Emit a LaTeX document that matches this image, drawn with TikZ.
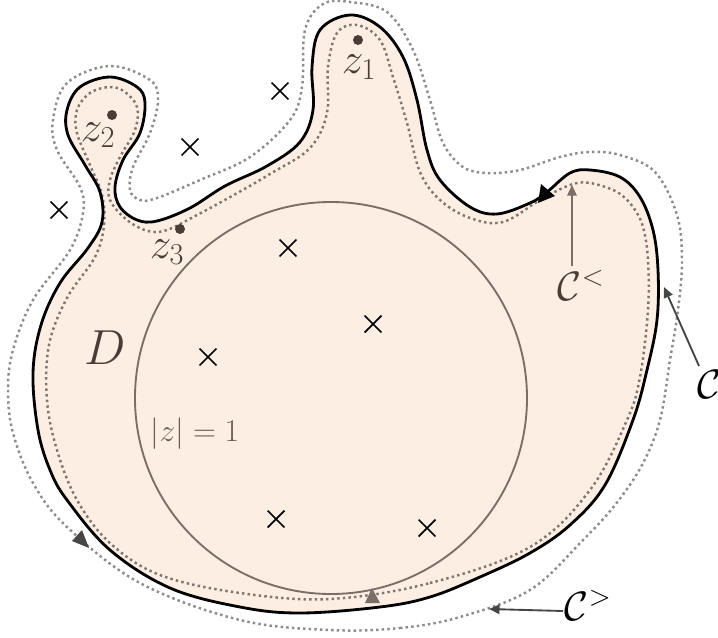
\RequirePackage{fix-cm}
\documentclass[tikz,border=0pt]{standalone}
\usepackage{amsmath}
\usetikzlibrary{arrows.meta,shapes.misc}
\definecolor{peach}{RGB}{253,238,228}
\definecolor{circcol}{RGB}{122,110,103}
\definecolor{labcol}{RGB}{74,61,54}
\definecolor{innerdot}{RGB}{128,118,112}
\definecolor{outerdot}{RGB}{140,140,140}
\definecolor{arrdark}{RGB}{70,70,70}
\tikzset{
  boundary/.style={line width=2.4pt, black},
  innerc/.style={innerdot, line width=2.1pt, dash pattern=on 2.1pt off 2.7pt},
  outerc/.style={outerdot, line width=2.1pt, dash pattern=on 2.1pt off 2.7pt},
  xmark/.style={cross out, draw=black, line width=1.5pt, minimum size=0.45cm, inner sep=0pt},
  dotm/.style={circle, fill=labcol, minimum size=0.3cm, inner sep=0pt},
  lab/.style={text=labcol, inner sep=0pt},
  unitc/.style={circle, draw=circcol, line width=1.6pt, minimum size=11.76cm, inner sep=0pt},
  ptr/.style={line width=1.6pt, -{Triangle[length=9pt,width=8pt]}},
}
\begin{document}
\begin{tikzpicture}[x=0.03cm,y=-0.03cm]
\useasboundingbox (0,0) rectangle (718,638);
\clip (0,0) rectangle (718,638);

\def\boundarypts{(300,613) (380,607) (430,597) (480,577) (530,553) (570,525) (605,485) (633,420)
 (647,370) (657,320) (658,270) (653,230) (640,197) (620,177) (590,170) (570,173)
 (547,192) (530,203) (497,214) (470,207) (440,180) (427,150) (417,100) (403,57)
 (380,27) (350,15) (320,30) (312,67) (313,110) (300,142) (267,166) (225,186)
 (190,208) (157,221) (137,220) (120,207) (115,187) (123,160) (140,133)
 (145,103) (137,87) (110,77) (80,87) (67,110) (68,135) (85,165) (100,192)
 (102,222) (88,248) (60,283) (41,325) (33,373) (38,430) (50,470) (67,500)
 (110,550) (170,588) (240,607)}

% domain fill
\path[fill=peach] plot[smooth cycle, tension=0.6] coordinates {\boundarypts};

% unit circle
\node[unitc] (uc) at (331,398) {};

% inner dotted contour
\draw[innerc] plot[smooth cycle, tension=0.6] coordinates {
 (330,599) (430,583) (530,547) (590,490) (627,420) (640,377) (648,310) (648,260)
 (643,227) (633,207) (617,192) (590,183) (570,185) (540,200) (503,222) (470,218)
 (440,200) (420,172) (407,123) (393,77) (380,40) (357,25) (337,33) (328,67)
 (327,113) (310,148) (270,174) (232,196) (197,215) (167,230) (148,231) (127,220)
 (110,200) (110,180) (120,157) (135,130) (137,107) (125,92) (110,87) (90,93) (77,110)
 (77,133) (90,165) (102,195) (104,225) (95,257) (67,298) (49,345) (47,400)
 (57,450) (77,500) (110,543) (160,575) (240,593)};

% boundary
\draw[boundary] plot[smooth cycle, tension=0.6] coordinates {\boundarypts};

% outer dotted contour
\draw[outerc] plot[smooth cycle, tension=0.6] coordinates {
 (330,630) (400,628) (460,617) (530,590) (583,540) (615,505) (642,465) (660,420)
 (670,360) (678,310) (682,260) (677,215) (655,172) (620,155) (590,152) (560,157)
 (520,170) (487,173) (463,167) (443,143) (430,100) (413,50) (387,12) (350,2)
 (323,4) (305,30) (302,87) (290,120) (250,157) (200,180) (157,198) (140,200)
 (130,190) (133,167) (150,133) (158,100) (150,80) (110,66) (67,83) (53,120)
 (57,150) (80,187) (83,213) (70,250) (33,300) (13,350) (8,390) (13,433)
 (33,483) (67,527) (140,583) (240,620)};

% orientation marks
\fill[black] (538,203) -- (541,184) -- (555,196) -- cycle;
\fill[arrdark] (72,541) -- (82,530) -- (89,548) -- cycle;
\fill[circcol] (365,603) -- (372,588) -- (380,603) -- cycle;

% poles
\node[xmark] (p1) at (280,91) {};
\node[xmark] (p2) at (190,147) {};
\node[xmark] (p3) at (59,210) {};
\node[xmark] (p4) at (288,248) {};
\node[xmark] (p5) at (373,324) {};
\node[xmark] (p6) at (208,357) {};
\node[xmark] (p7) at (276,519) {};
\node[xmark] (p8) at (427,528) {};

% points z_i
\node[dotm] (d1) at (358,40) {};
\node[dotm] (d2) at (112,115) {};
\node[dotm] (d3) at (180,229) {};
\node[lab, font=\fontsize{37}{42}\selectfont] (z1) at (359,67) {$z_1$};
\node[lab, font=\fontsize{37}{42}\selectfont] (z2) at (98,135) {$z_2$};
\node[lab, font=\fontsize{37}{42}\selectfont] (z3) at (167,252) {$z_3$};

% labels
\node[lab, font=\fontsize{42}{46}\selectfont] (Dl) at (105,348) {$D$};
\node[lab, text=circcol!85!black, font=\fontsize{27}{30}\selectfont] (ul) at (195,434) {$|z|=1$};
\node[lab, font=\fontsize{35}{40}\selectfont] (Cin) at (581,285) {$\mathcal{C}^{<}$};
\node[inner sep=0pt, font=\fontsize{35}{40}\selectfont] (Cmid) at (709,384) {$\mathcal{C}$};
\node[inner sep=0pt, font=\fontsize{35}{40}\selectfont] (Cout) at (588,605) {$\mathcal{C}^{>}$};

% pointers
\coordinate (a1s) at (572,266);
\coordinate (a1e) at (572,185);
\coordinate (a2s) at (699,366);
\coordinate (a2e) at (664,287);
\coordinate (a3s) at (563,611);
\coordinate (a3e) at (489,609);
\draw[ptr, circcol] (a1s) -- (a1e);
\draw[ptr, arrdark] (a2s) -- (a2e);
\draw[ptr, arrdark] (a3s) -- (a3e);
\end{tikzpicture}
\end{document}
